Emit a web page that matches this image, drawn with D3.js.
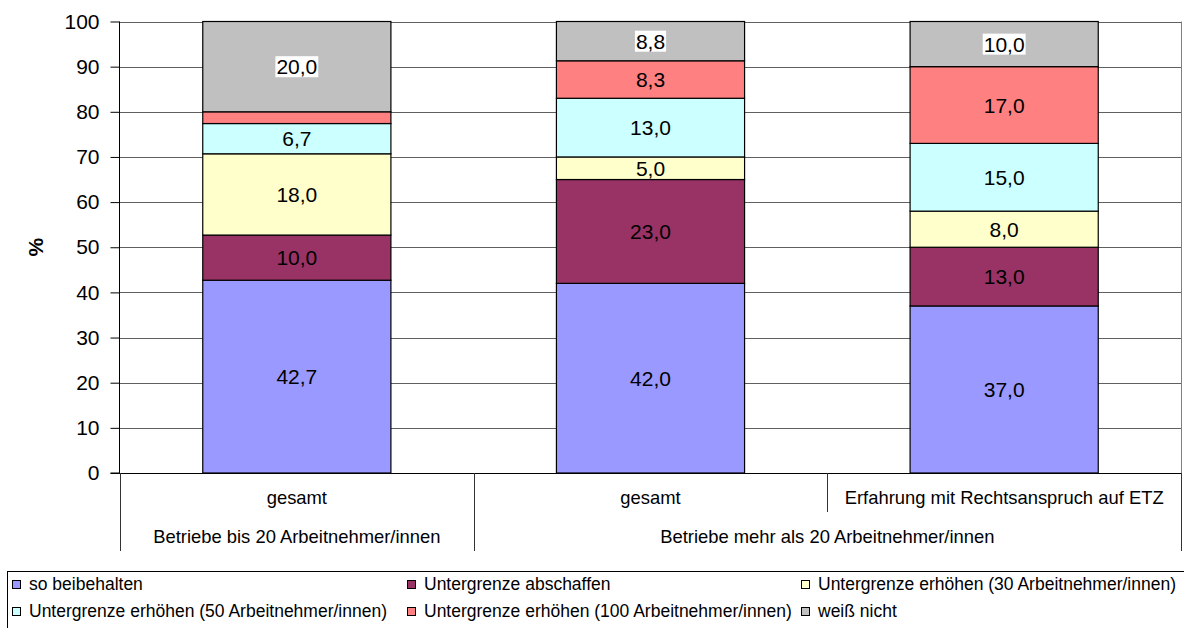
<!DOCTYPE html>
<html>
<head>
<meta charset="utf-8">
<script src="https://cdn.jsdelivr.net/npm/d3@7"></script>
<style>
  html, body { margin: 0; padding: 0; background: #fff; }
  svg { display: block; font-family: "Liberation Sans", Arial, sans-serif; }
</style>
</head>
<body>
<svg id="chart" width="1184" height="628"></svg>
<script>
// ---- data ----
const categories = ["gesamt", "gesamt", "Erfahrung mit Rechtsanspruch auf ETZ"];
const groups = ["Betriebe bis 20 Arbeitnehmer/innen", "Betriebe mehr als 20 Arbeitnehmer/innen"];
const groupOfCategory = [0, 1, 1];
const seriesNames = [
  "so beibehalten",
  "Untergrenze abschaffen",
  "Untergrenze erhöhen (30 Arbeitnehmer/innen)",
  "Untergrenze erhöhen (50 Arbeitnehmer/innen)",
  "Untergrenze erhöhen (100 Arbeitnehmer/innen)",
  "weiß nicht"
];
const soBeibehalten = [42.7, 42.0, 37.0];
const abschaffen = [10.0, 23.0, 13.0];
const erhoehen30 = [18.0, 5.0, 8.0];
const erhoehen50 = [6.7, 13.0, 15.0];
const erhoehen100 = [2.6, 8.3, 17.0];
const weissNicht = [20.0, 8.8, 10.0];
const yTicks = [0, 10, 20, 30, 40, 50, 60, 70, 80, 90, 100];

const seriesValues = [soBeibehalten, abschaffen, erhoehen30, erhoehen50, erhoehen100, weissNicht];
const colors = ["#9999FF", "#993366", "#FFFFCC", "#CCFFFF", "#FF8080", "#C0C0C0"];

// ---- layout ----
const svg = d3.select("#chart");
const plotL = 120, plotR = 1181, plotT = 21.5, plotB = 473;
const barFrac = 0.532;
const font = "\"Liberation Sans\", Arial, sans-serif";

const x = d3.scaleBand().domain(d3.range(categories.length)).range([plotL, plotR]).padding(0);
const y = d3.scaleLinear().domain([0, 100]).range([plotB, plotT]);

// table for stacking
const table = categories.map((c, i) => {
  const row = { idx: i };
  seriesNames.forEach((s, j) => row[s] = seriesValues[j][i]);
  return row;
});
const stacked = d3.stack().keys(seriesNames)(table);

// gridlines
svg.append("g").selectAll("line").data(yTicks.filter(t => t > 0)).join("line")
  .attr("x1", plotL).attr("x2", plotR)
  .attr("y1", d => Math.round(y(d)) + 0.5).attr("y2", d => Math.round(y(d)) + 0.5)
  .attr("stroke", "#606060").attr("stroke-width", 1);

// right border of plot area
svg.append("line").attr("x1", plotR + 0.5).attr("x2", plotR + 0.5)
  .attr("y1", y(100)).attr("y2", plotB).attr("stroke", "#808080");

// bars
const bw = x.bandwidth() * barFrac;
const inset = (x.bandwidth() - bw) / 2;
const layers = svg.append("g").selectAll("g").data(stacked).join("g")
  .attr("fill", (d, i) => colors[i]);
layers.selectAll("rect").data(d => d).join("rect")
  .attr("x", d => x(d.data.idx) + inset)
  .attr("width", bw)
  .attr("y", d => y(Math.min(d[1], 100)))
  .attr("height", d => y(d[0]) - y(Math.min(d[1], 100)))
  .attr("stroke", "#000").attr("stroke-width", 1.2);

// data labels
stacked.forEach((layer, si) => {
  layer.forEach(d => {
    const v = d[1] - d[0];
    if (v < 3) return;
    const cx = x(d.data.idx) + x.bandwidth() / 2;
    const cy = y((d[0] + Math.min(d[1], 100)) / 2);
    const txt = d3.format(".1f")(v).replace(".", ",");
    const g = svg.append("g");
    const t = g.append("text").attr("x", cx).attr("y", cy).attr("dy", "0.36em")
      .attr("text-anchor", "middle").attr("font-size", 21).attr("fill", "#000")
      .attr("font-family", font).text(txt);
    if (si === seriesNames.length - 1) {
      const bb = t.node().getBBox();
      g.insert("rect", "text").attr("x", bb.x - 1).attr("y", bb.y + 1)
        .attr("width", bb.width + 2).attr("height", bb.height - 2).attr("fill", "#fff");
    }
  });
});

// y axis
const yAxis = d3.axisLeft(y).tickValues(yTicks).tickSize(9).tickPadding(11).tickFormat(d3.format("d"));
const ya = svg.append("g").attr("transform", `translate(${plotL - 0.5},0)`).call(yAxis);
ya.select(".domain").attr("stroke", "#000").attr("d", `M-9,${plotB}H0V${plotT}`);
ya.selectAll(".tick line").attr("stroke", "#000");
ya.selectAll(".tick text").attr("font-size", 21).attr("font-family", font).attr("fill", "#000");

// baseline (0) across plot
svg.append("line").attr("x1", plotL - 9).attr("x2", plotR + 1)
  .attr("y1", plotB + 0.5).attr("y2", plotB + 0.5).attr("stroke", "#000");

// y axis title
svg.append("text").attr("transform", `translate(36,${(plotT + plotB) / 2}) rotate(-90)`)
  .attr("text-anchor", "middle").attr("dy", "0.35em")
  .attr("font-size", 21).attr("font-weight", "bold").attr("font-family", font).text("%");

// category axis (multi-level)
const row1Y = 498, row2Y = 537;
const sepColor = "#333";
d3.range(categories.length + 1).forEach(i => {
  const xx = i < categories.length ? x(i) : plotR;
  const isGroupEdge = i === 0 || i === categories.length || groupOfCategory[i] !== groupOfCategory[i - 1];
  svg.append("line").attr("x1", Math.round(xx) + 0.5).attr("x2", Math.round(xx) + 0.5)
    .attr("y1", plotB).attr("y2", isGroupEdge ? 551 : 512)
    .attr("stroke", sepColor);
});
svg.append("g").selectAll("text").data(categories).join("text")
  .attr("x", (d, i) => x(i) + x.bandwidth() / 2).attr("y", row1Y).attr("dy", "0.35em")
  .attr("text-anchor", "middle").attr("font-size", 18.4).attr("font-family", font).text(d => d);
svg.append("g").selectAll("text").data(groups).join("text")
  .attr("x", (d, gi) => {
    const idxs = d3.range(categories.length).filter(i => groupOfCategory[i] === gi);
    const a = x(idxs[0]), b = x(idxs[idxs.length - 1]) + x.bandwidth();
    return (a + b) / 2;
  })
  .attr("y", row2Y).attr("dy", "0.35em")
  .attr("text-anchor", "middle").attr("font-size", 18.4).attr("font-family", font).text(d => d);

// legend
svg.append("rect").attr("x", 7.5).attr("y", 571.5).attr("width", 1200).attr("height", 100)
  .attr("fill", "none").attr("stroke", "#000");
const legendPos = [[12, 584], [407, 584], [801, 584], [12, 611], [407, 611], [801, 611]];
const lg = svg.append("g").selectAll("g").data(seriesNames).join("g")
  .attr("transform", (d, i) => `translate(${legendPos[i][0]},${legendPos[i][1]})`);
lg.append("rect").attr("x", 0.5).attr("y", -3.5).attr("width", 8).attr("height", 8)
  .attr("fill", (d, i) => colors[i]).attr("stroke", "#000");
lg.append("text").attr("x", 17).attr("y", 0).attr("dy", "0.35em")
  .attr("font-size", 17.5).attr("font-family", font).text(d => d);
</script>
</body>
</html>
